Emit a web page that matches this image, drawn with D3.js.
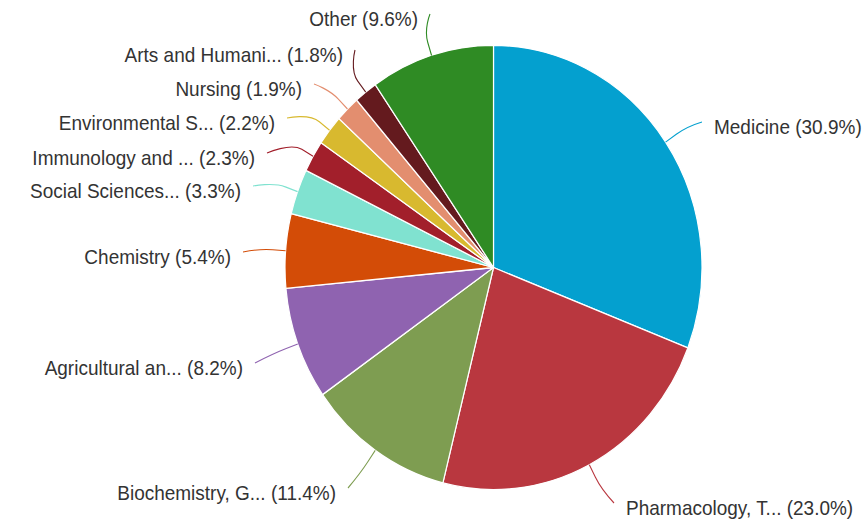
<!DOCTYPE html>
<html>
<head>
<meta charset="utf-8">
<script src="https://cdn.jsdelivr.net/npm/d3@7"></script>
<style>
  html, body { margin: 0; padding: 0; background: #fff; }
  svg { display: block; }
</style>
</head>
<body>
<svg id="chart" width="864" height="523"></svg>
<script>
// ---- data ----
const categories = [
  "Medicine", "Pharmacology, T...", "Biochemistry, G...", "Agricultural an...",
  "Chemistry", "Social Sciences...", "Immunology and ...", "Environmental S...",
  "Nursing", "Arts and Humani...", "Other"
];
const values = [30.9, 23.0, 11.4, 8.2, 5.4, 3.3, 2.3, 2.2, 1.9, 1.8, 9.6];
const colors = [
  "#04a0cf", "#b9373f", "#7e9d51", "#8f63b0", "#d34c07", "#80e2d0",
  "#a21f2b", "#d8b92f", "#e38e6f", "#641a1e", "#2f8b24"
];
// label layout (screen px): edge x of text and text centre y
const labelX = [714, 626, 336, 243, 231, 241, 255, 275, 302, 343, 418];
const labelY = [127, 508, 493, 368, 257, 191, 158, 123, 89, 55, 19];

// ---- layout ----
const sy = 1.065;            // vertical stretch of the picture
const cx = 493.5, cy = 267.5 / sy, r = 208.5;

const svg = d3.select("#chart");
const g = svg.append("g").attr("transform", `scale(1,${sy})`);

const pie = d3.pie().sort(null).value(d => d.v);
const arcs = pie(values.map((v, i) => ({ v, i })));
const arc = d3.arc().innerRadius(0).outerRadius(r);

const pieG = g.append("g").attr("transform", `translate(${cx},${cy})`);
pieG.selectAll("path.slice")
  .data(arcs)
  .join("path")
  .attr("class", "slice")
  .attr("d", arc)
  .attr("fill", d => colors[d.data.i])
  .attr("stroke", "#ffffff")
  .attr("stroke-width", 1.2)
  .attr("stroke-linejoin", "round");

// connectors
const conn = g.append("g");
arcs.forEach((d, i) => {
  const a = (d.startAngle + d.endAngle) / 2;
  const left = a > Math.PI;
  const tx = cx + r * Math.sin(a), ty = cy - r * Math.cos(a);
  const br = r + 13;
  const bx = cx + br * Math.sin(a), by = cy - br * Math.cos(a);
  const lx = labelX[i] + (left ? 12 : -12);
  const ly = (labelY[i] - 5) / sy;
  const p = d3.path();
  p.moveTo(lx, ly);
  p.bezierCurveTo(lx, ly, 2 * bx - tx, 2 * by - ty, bx, by);
  p.lineTo(tx, ty);
  conn.append("path")
    .attr("d", p.toString())
    .attr("fill", "none")
    .attr("stroke", colors[i])
    .attr("stroke-width", 1.1);
});

// labels
const lab = g.append("g")
  .attr("font-family", "'Liberation Sans', Arial, Helvetica, sans-serif")
  .attr("font-size", 19)
  .attr("fill", "#333333");
arcs.forEach((d, i) => {
  const a = (d.startAngle + d.endAngle) / 2;
  const left = a > Math.PI;
  lab.append("text")
    .attr("x", labelX[i])
    .attr("y", labelY[i] / sy)
    .attr("dy", "0.35em")
    .attr("text-anchor", left ? "end" : "start")
    .text(`${categories[i]} (${values[i].toFixed(1)}%)`);
});
</script>
</body>
</html>
